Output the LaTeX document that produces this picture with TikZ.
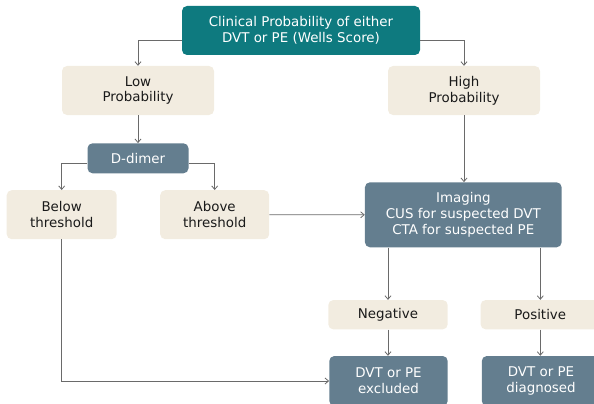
\documentclass[tikz,border=0pt]{standalone}
\usepackage{fontspec}
\setmainfont{DejaVu Sans}
\usetikzlibrary{arrows.meta}
\definecolor{tealbox}{HTML}{0E7A7F}
\definecolor{slatebox}{HTML}{647E8F}
\definecolor{beigebox}{HTML}{F2ECE0}
\definecolor{linegray}{HTML}{6A6A6A}
\definecolor{darktext}{HTML}{1A1A1A}
\tikzset{
  basebox/.style={rounded corners=5pt, inner sep=0pt, align=center, font=\fontsize{13.4}{15.8}\selectfont},
  tealnode/.style={basebox, fill=tealbox, text=white},
  slatenode/.style={basebox, fill=slatebox, text=white},
  beigenode/.style={basebox, fill=beigebox, text=darktext},
  conn/.style={draw=linegray, line width=0.8pt, -{Straight Barb[length=3.5pt,width=6pt]}}
}
\begin{document}
\begin{tikzpicture}[x=1pt,y=-1pt]
\useasboundingbox (0,0) rectangle (594,404);
\node[tealnode, minimum width=238pt, minimum height=49pt] (top) at (301,30.5) {Clinical Probability of either\\DVT or PE (Wells Score)};
\node[beigenode, minimum width=152pt, minimum height=49pt] (low) at (138,90.5) {Low\\Probability};
\node[beigenode, minimum width=152pt, minimum height=49pt] (high) at (464,90.5) {High\\Probability};
\node[slatenode, minimum width=101pt, minimum height=30pt] (dd) at (138,158.3) {D-dimer};
\node[beigenode, minimum width=110pt, minimum height=49pt] (below) at (61.7,214.7) {Below\\threshold};
\node[beigenode, minimum width=109pt, minimum height=49pt] (above) at (214.7,214.7) {Above\\threshold};
\node[slatenode, minimum width=196.7pt, minimum height=65pt] (img) at (463.3,214.8) {Imaging\\CUS for suspected DVT\\CTA for suspected PE};
\node[beigenode, minimum width=119.4pt, minimum height=29.3pt] (neg) at (388,314.7) {Negative};
\node[beigenode, minimum width=119.4pt, minimum height=29.3pt] (pos) at (540.3,314.7) {Positive};
\node[slatenode, minimum width=118.4pt, minimum height=50pt] (exc) at (388.5,381) {DVT or PE\\excluded};
\node[slatenode, minimum width=118.4pt, minimum height=50pt] (diag) at (541,381) {DVT or PE\\diagnosed};
\draw[conn] ([yshift=-9.5pt]top.west) -| (low.north);
\draw[conn] ([yshift=-9.5pt]top.east) -| (high.north);
\draw[conn] (low.south) -- (dd.north);
\draw[conn] ([yshift=-5pt]dd.west) -| (below.north);
\draw[conn] ([yshift=-5pt]dd.east) -| (above.north);
\draw[conn] (high.south) -- (high.south |- img.north);
\draw[conn] (above.east) -- (img.west);
\draw[conn] (img.south -| neg.north) -- (neg.north);
\draw[conn] (img.south -| pos.north) -- (pos.north);
\draw[conn] (neg.south) -- (neg.south |- exc.north);
\draw[conn] (pos.south) -- (pos.south |- diag.north);
\draw[conn] (below.south) |- (exc.west);
\end{tikzpicture}
\end{document}
